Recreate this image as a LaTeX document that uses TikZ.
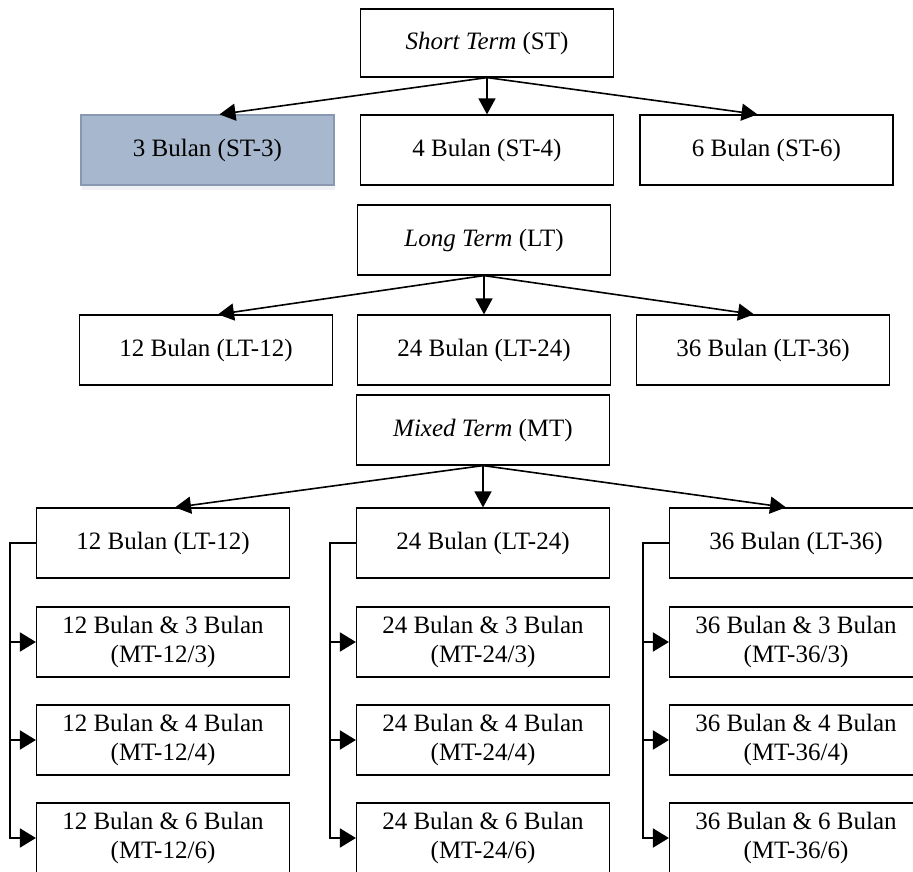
\documentclass[tikz,border=0pt]{standalone}
\usepackage{fontspec}
\setmainfont{Liberation Serif}
\usetikzlibrary{arrows.meta,shadows,calc}
\definecolor{hlfill}{HTML}{A7B7CD}
\definecolor{hledge}{HTML}{8898B0}
\begin{document}
\begin{tikzpicture}[x=1pt,y=-1pt,
  box/.style={draw=black, line width=1.2pt, minimum width=253pt, minimum height=70pt,
    inner sep=0pt, align=center, font=\fontsize{25}{29}\selectfont},
  hlbox/.style={box, fill=hlfill, draw=hledge,
    drop shadow={shadow xshift=1pt, shadow yshift=-5pt, opacity=0.12, fill=hledge}},
  arr/.style={line width=1.6pt, -{Triangle[length=16pt,width=17pt]}},
  busarr/.style={line width=2pt, -{Triangle[length=16pt,width=19pt]}},
]
\useasboundingbox (0,0) rectangle (913,872);
\clip (0,0) rectangle (913,872);

% Short term
\node[box, minimum height=68pt] (st) at (487,43) {\textit{Short Term} (ST)};
\node[hlbox] (st3) at (207.5,150) {3 Bulan (ST-3)};
\node[box] (st4) at (487,150) {4 Bulan (ST-4)};
\node[box] (st6) at (766.5,150) {6 Bulan (ST-6)};

% Long term
\node[box] (lt) at (484,240) {\textit{Long Term} (LT)};
\node[box] (lt12) at (206,350) {12 Bulan (LT-12)};
\node[box] (lt24) at (484,350) {24 Bulan (LT-24)};
\node[box] (lt36) at (763,350) {36 Bulan (LT-36)};

% Mixed term
\node[box] (mt) at (483,430) {\textit{Mixed Term} (MT)};
\node[box] (m12) at (163,543) {12 Bulan (LT-12)};
\node[box] (m24) at (483,543) {24 Bulan (LT-24)};
\node[box] (m36) at (796,543) {36 Bulan (LT-36)};

\node[box] (m12a) at (163,642) {12 Bulan \& 3 Bulan\\(MT-12/3)};
\node[box] (m12b) at (163,740) {12 Bulan \& 4 Bulan\\(MT-12/4)};
\node[box] (m12c) at (163,838) {12 Bulan \& 6 Bulan\\(MT-12/6)};
\node[box] (m24a) at (483,642) {24 Bulan \& 3 Bulan\\(MT-24/3)};
\node[box] (m24b) at (483,740) {24 Bulan \& 4 Bulan\\(MT-24/4)};
\node[box] (m24c) at (483,838) {24 Bulan \& 6 Bulan\\(MT-24/6)};
\node[box] (m36a) at (796,642) {36 Bulan \& 3 Bulan\\(MT-36/3)};
\node[box] (m36b) at (796,740) {36 Bulan \& 4 Bulan\\(MT-36/4)};
\node[box] (m36c) at (796,838) {36 Bulan \& 6 Bulan\\(MT-36/6)};

% Tree arrows
\draw[arr] (st.south) -- ($(st3.north)+(12,0)$);
\draw[arr] (st.south) -- (st4.north);
\draw[arr] (st.south) -- ($(st6.north)+(-9,0)$);
\draw[arr] (lt.south) -- ($(lt12.north)+(12,0)$);
\draw[arr] (lt.south) -- (lt24.north);
\draw[arr] (lt.south) -- ($(lt36.north)+(-9,0)$);
\draw[arr] (mt.south) -- ($(m12.north)+(12,0)$);
\draw[arr] (mt.south) -- (m24.north);
\draw[arr] (mt.south) -- ($(m36.north)+(-10,0)$);

% Side buses
\foreach \c in {m12,m24,m36}{
  \coordinate (\c bus) at ($(\c.west)+(-26,0)$);
  \draw[busarr] (\c.west) -- (\c bus) |- (\c c.west);
  \draw[busarr] (\c bus |- \c a.west) -- (\c a.west);
  \draw[busarr] (\c bus |- \c b.west) -- (\c b.west);
}
\end{tikzpicture}
\end{document}
